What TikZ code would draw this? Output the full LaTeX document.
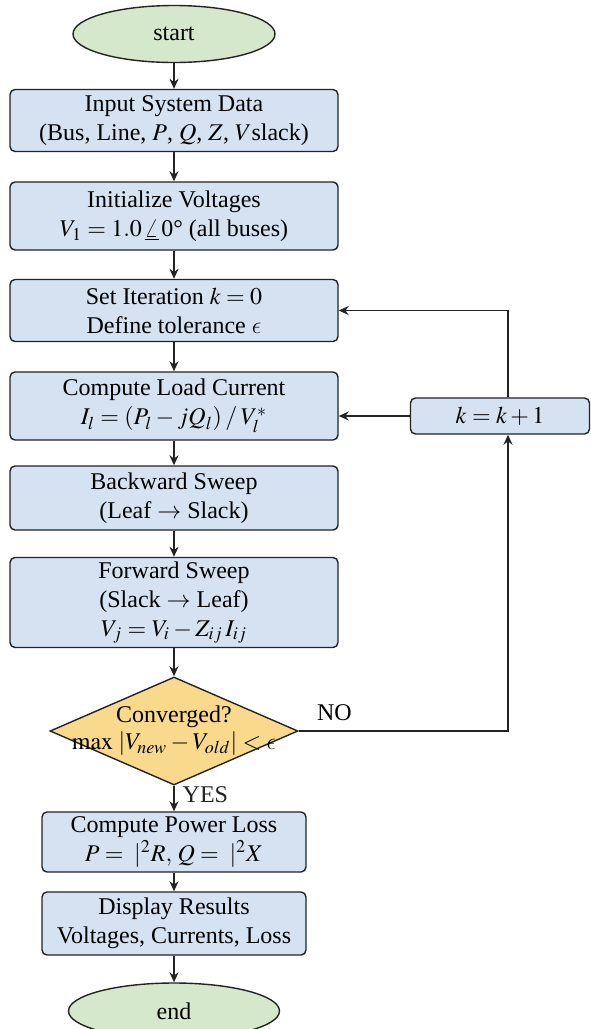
\documentclass[tikz,border=0pt]{standalone}
\usepackage{mathptmx}
\DeclareSymbolFont{cmletters}{OML}{cmm}{m}{it}
\DeclareMathSymbol{\lunateps}{\mathord}{cmletters}{"0F}
\usepackage{fontspec}
\setmainfont{Liberation Serif}
\usepackage{tikz}
\usetikzlibrary{arrows.meta, shapes.geometric}
\definecolor{boxblue}{RGB}{213,226,242}
\definecolor{termgreen}{RGB}{214,232,204}
\definecolor{condyellow}{RGB}{249,217,140}
\definecolor{edgegray}{RGB}{35,35,35}

\tikzset{
  every node/.style={font=\fontsize{12}{14.5}\selectfont},
  procbox/.style={draw=edgegray, fill=boxblue, rounded corners=2.5pt, line width=0.7pt,
    align=center, minimum width=164pt, minimum height=31pt, inner sep=2pt},
  smallbox/.style={procbox, minimum width=132pt, minimum height=30pt},
  termnode/.style={draw=edgegray, fill=termgreen, ellipse, line width=0.7pt,
    minimum width=101pt, minimum height=28.5pt, inner sep=0pt},
  decision/.style={draw=edgegray, fill=condyellow, diamond, line width=0.7pt,
    minimum width=124pt, minimum height=54pt, inner sep=0pt},
  arr/.style={-{Stealth[length=5pt,width=4.5pt]}, line width=0.7pt, edgegray}
}

\begin{document}
\begin{tikzpicture}[x=0.5pt, y=-0.5pt]
    \useasboundingbox (0,0) rectangle (590,1029);
    % main column
    \node[termnode] (start) at (174,34) {start};
    \node[procbox] (input) at (174,120.5) {Input System Data\\(Bus, Line, $P$, $Q$, $Z$, $V$slack)};
    \node[procbox, minimum height=34pt] (initv) at (174,216) {Initialize Voltages\\$V_1 = 1.0\,\underline{\angle}\,$0° (all buses)};
    \node[procbox] (setk) at (174,310.5) {Set Iteration $k = 0$\\Define tolerance $\lunateps$};
    \node[procbox, minimum height=34pt] (load) at (174,406) {Compute Load Current\\$I_l = (P_l - jQ_l) \mathbin{/} V_l^{*}$};
    \node[procbox, minimum height=32pt] (back) at (174,498) {Backward Sweep\\(Leaf $\rightarrow$ Slack)};
    \node[procbox, minimum height=44.5pt] (fwd) at (174,602.5) {Forward Sweep\\(Slack $\rightarrow$ Leaf)\\$V_j = V_i - Z_{ij}\, I_{ij}$};
    \node[decision] (conv) at (174,731) {};
    \node[align=center] (convtxt) at (conv) {Converged?\\[-1pt]$\max\,|V_{new} - V_{old}| < \lunateps$};
    \node[smallbox] (power) at (174,842) {Compute Power Loss\\$P = \;|^2R,\, Q = \;|^2X$};
    \node[smallbox, minimum height=31.5pt] (disp) at (174,923.5) {Display Results\\Voltages, Currents, Loss};
    \node[termnode, minimum width=105.5pt, minimum height=28pt] (end) at (174,1011) {end};
    % loop back
    \node[procbox, minimum width=89.5pt, minimum height=18pt] (kinc) at (500,416) {$k = k + 1$};
    \coordinate (noturn) at (508,731);

    \draw[arr] (start) -- (input);
    \draw[arr] (input) -- (initv);
    \draw[arr] (initv) -- (setk);
    \draw[arr] (setk) -- (load);
    \draw[arr] (load) -- (back);
    \draw[arr] (back) -- (fwd);
    \draw[arr] (fwd) -- (conv);
    \draw[arr] (conv) -- (power) node[pos=0.35, right, inner sep=4pt] (yes) {YES};
    \draw[arr] (power) -- (disp);
    \draw[arr] (disp) -- (end);
    \draw[arr] (conv.east) -- (noturn) -- (noturn |- kinc.south);
    \node[above right, inner sep=2pt] (no) at ([xshift=7pt,yshift=3pt]conv.east) {NO};
    \draw[arr] (noturn |- kinc.north) |- (setk.east);
    \draw[arr] (kinc.west) -- (kinc.west -| load.east);
\end{tikzpicture}
\end{document}
